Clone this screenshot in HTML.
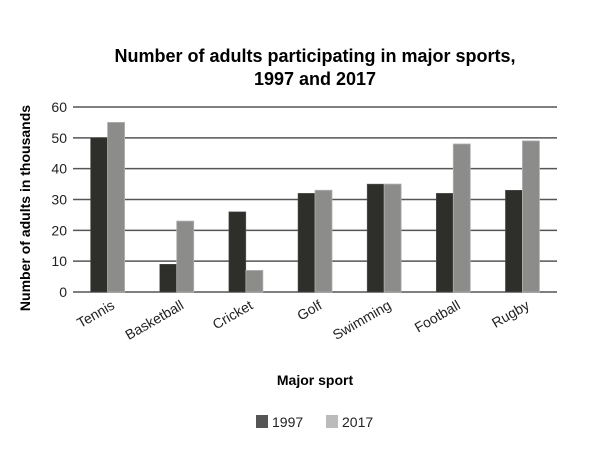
<!DOCTYPE html>
<html><head><meta charset="utf-8"><style>
body{margin:0;background:#fff;}
svg{display:block;font-family:"Liberation Sans",Arial,sans-serif;}
</style></head><body>
<svg id="chart" width="614" height="454">
<text x="315" y="62" text-anchor="middle" font-size="18" font-weight="bold"><tspan x="315">Number of adults participating in major sports,</tspan><tspan x="315" dy="23">1997 and 2017</tspan></text>
<text transform="translate(30,208) rotate(-90)" text-anchor="middle" font-size="14" font-weight="bold">Number of adults in thousands</text>
<text x="315" y="385" text-anchor="middle" font-size="14" font-weight="bold">Major sport</text>
<g id="grid"></g><g id="bars"></g><g id="xlabels"></g>
<rect x="256" y="415" width="12" height="13" fill="#555"/>
<text x="272" y="427" font-size="14" fill="#222">1997</text>
<rect x="326" y="415" width="12" height="13" fill="#bbb"/>
<text x="342" y="427" font-size="14" fill="#222">2017</text>
</svg>
<script>
const categories=["Tennis","Basketball","Cricket","Golf","Swimming","Football","Rugby"];
const values1997=[50,9,26,32,35,32,33];
const values2017=[55,23,7,33,35,48,49];
const yTicks=[0,10,20,30,40,50,60];
const NS="http://www.w3.org/2000/svg";
const L=73,R=557,Y0=292,Y60=107;
const y=v=>Y0-(v/60)*(Y0-Y60);
const bw=(R-L)/categories.length;
const xc=i=>L+bw*(i+0.5);
function mk(t,a,p){const e=document.createElementNS(NS,t);for(const k in a)e.setAttribute(k,a[k]);p.appendChild(e);return e;}
const grid=document.getElementById('grid');
yTicks.forEach(t=>{
 const l=mk('line',{x1:L,x2:R,y1:y(t),y2:y(t),stroke:'#555','stroke-width':1.5},grid);
 
 
 const tx=mk('text',{x:L-6,y:y(t)+5,'text-anchor':'end','font-size':14,fill:'#222'},grid);
 tx.textContent=t;
 
 
});
const bars=document.getElementById('bars');const xl=document.getElementById('xlabels');
categories.forEach((c,i)=>{
 const w=17;
 const b1=mk('rect',{x:xc(i)-w,y:y(values1997[i]),width:w,height:Y0-y(values1997[i]),fill:'#2e2e2a',stroke:'#555','stroke-width':0.5},bars);
 
 
 const b2=mk('rect',{x:xc(i),y:y(values2017[i]),width:w,height:Y0-y(values2017[i]),fill:'#8c8c8a',stroke:'#b0b0b0','stroke-width':0.8},bars);
 
 
 const t=mk('text',{transform:`translate(${xc(i)+8},${Y0+16}) rotate(-30)`,'text-anchor':'end','font-size':14,fill:'#222'},xl);
 t.textContent=c;
 
 
});
</script>
</body></html>
